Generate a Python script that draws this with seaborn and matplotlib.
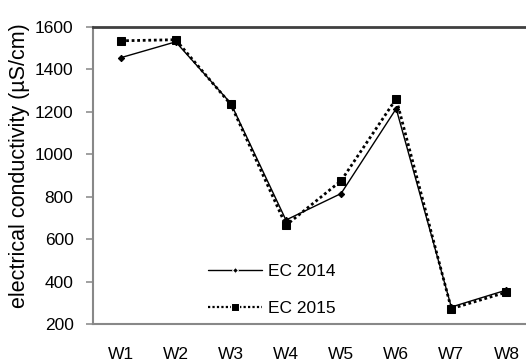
import pandas as pd
import matplotlib
matplotlib.use("Agg")
import matplotlib.pyplot as plt
import seaborn as sns
import numpy as np

# values
wells = ["W1", "W2", "W3", "W4", "W5", "W6", "W7", "W8"]
ec_2014 = [1455, 1530, 1240, 690, 815, 1215, 280, 360]
ec_2015 = [1535, 1540, 1235, 665, 875, 1262, 272, 350]

df = pd.DataFrame({"well": wells * 2,
                   "ec": ec_2014 + ec_2015,
                   "series": ["EC 2014"] * 8 + ["EC 2015"] * 8})

sns.set_style("white")
plt.rcParams["font.family"] = ["Liberation Sans", "DejaVu Sans"]
plt.rcParams["text.color"] = "black"

fig = plt.figure(figsize=(5.26, 3.63), dpi=100)
ax = fig.add_axes([93 / 526, 39 / 363, 441 / 526, 297 / 363])

sns.lineplot(data=df, x="well", y="ec", hue="series", style="series",
             palette=["black", "black"], dashes=[(None, None), (1, 1)],
             markers=["D", "s"], ax=ax, sort=False)

# fine-tune line looks
lines = ax.get_lines()
lines[0].set_linewidth(1.0)
lines[0].set_markersize(3.2)
lines[1].set_linewidth(2.0)
lines[1].set_markersize(6)
for ln in lines[:2]:
    ln.set_markeredgecolor("black")

ax.set_xlim(-0.5, 7.5)
ax.set_ylim(200, 1600)
ax.set_yticks(range(200, 1601, 200))
ax.set_xticks(range(8))
ax.set_xticklabels(wells)
ax.set_xticks(np.arange(-0.5, 8, 1), minor=True)
ax.tick_params(axis="x", which="major", length=0, pad=16.5, labelsize=12.5, labelcolor="black")
ax.tick_params(axis="x", which="minor", length=4, direction="out", color="#909090", width=1.2)
ax.tick_params(axis="y", length=5, pad=9, direction="out", color="#909090", width=1.2,
               labelsize=12.5, labelcolor="black", left=True)
ax.set_xlabel("")
ax.set_ylabel("electrical conductivity (\u00b5S/cm)", fontsize=15.5, color="black")
ax.yaxis.set_label_coords(-0.143, 0.532)

for side in ["left", "bottom", "right"]:
    ax.spines[side].set_color("#888888")
    ax.spines[side].set_linewidth(1.5)
ax.spines["top"].set_color("#404040")
ax.spines["top"].set_linewidth(2)

h, l = ax.get_legend_handles_labels()
leg = ax.legend(h, l, loc="center left", bbox_to_anchor=(0.245, 0.1145), borderaxespad=0,
                frameon=False, fontsize=12.5, handlelength=3.1, handletextpad=0.35,
                labelspacing=1.25)
leg_lines = leg.get_lines()
leg_lines[0].set_linewidth(1.0)
leg_lines[0].set_markersize(3)
leg_lines[1].set_linewidth(1.6)
leg_lines[1].set_markersize(5.5)

fig.savefig("out.png", dpi=100)
